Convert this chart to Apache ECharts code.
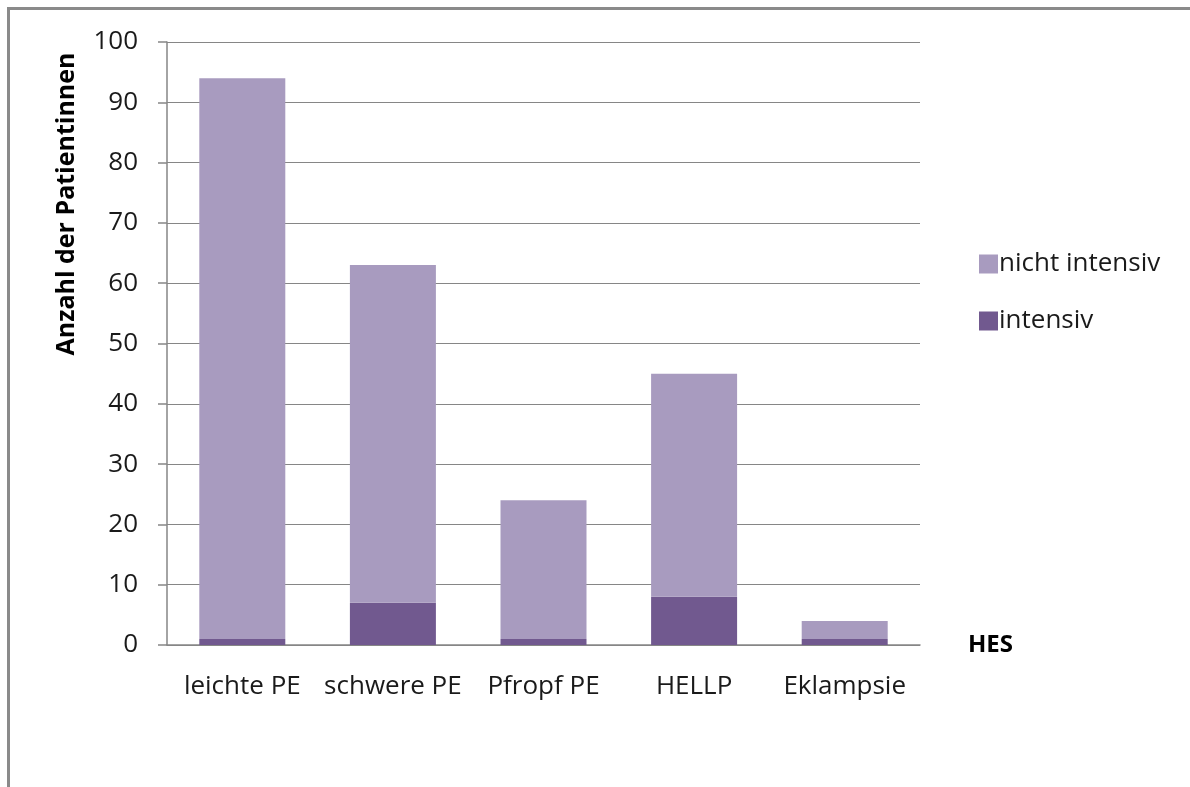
<!DOCTYPE html>
<html>
<head>
<meta charset="utf-8">
<style>
  html, body { margin: 0; padding: 0; background: #fff; }
  #chart { width: 1190px; height: 787px; }
</style>
<script src="https://cdn.jsdelivr.net/npm/echarts@6/dist/echarts.min.js"></script>
</head>
<body>
<div id="chart"></div>
<script>
  // Werte
  const categories = ["leichte PE", "schwere PE", "Pfropf PE", "HELLP", "Eklampsie"]
  const intensiv = [1, 7, 1, 8, 1]
  const nichtIntensiv = [93, 56, 23, 37, 3]
  const yTicks = [0, 10, 20, 30, 40, 50, 60, 70, 80, 90, 100]

  const fontFamily = "'Open Sans', sans-serif"
  const darkPurple = "#71598f"
  const lightPurple = "#a89bbf"

  const chart = echarts.init(document.getElementById("chart"))

  chart.setOption({
    animation: false,
    textStyle: { fontFamily },
    grid: {
      left: 167,
      right: 270,
      top: 42,
      bottom: 142
    },
    legend: {
      orient: "vertical",
      left: 974,
      top: 246,
      itemWidth: 19,
      itemHeight: 19,
      itemGap: 31,
      icon: "rect",
      data: ["nicht intensiv", "intensiv"],
      textStyle: { fontFamily, fontSize: 26, color: "#1a1a1a", padding: [0, 0, 0, -4] }
    },
    xAxis: {
      type: "category",
      data: categories,
      name: "HES",
      nameLocation: "end",
      nameGap: 48,
      nameTextStyle: { fontFamily, fontSize: 24, fontWeight: "bold", color: "#000", padding: [0, 0, 8, 0] },
      axisLine: { lineStyle: { color: "#868686", width: 1.5 } },
      axisTick: { show: false },
      axisLabel: { interval: 0, fontSize: 26, color: "#1a1a1a", margin: 29 }
    },
    yAxis: {
      type: "value",
      min: yTicks[0],
      max: yTicks[yTicks.length - 1],
      interval: 10,
      axisLine: { show: true, lineStyle: { color: "#868686", width: 1.5 } },
      axisTick: { show: true, length: 9, lineStyle: { color: "#868686", width: 1.5 } },
      splitLine: { lineStyle: { color: "#868686", width: 1.2 } },
      axisLabel: { fontSize: 26, color: "#1a1a1a", margin: 29 }
    },
    series: [
      {
        name: "intensiv",
        type: "bar",
        stack: "gesamt",
        barWidth: 86,
        data: intensiv,
        itemStyle: { color: darkPurple }
      },
      {
        name: "nicht intensiv",
        type: "bar",
        stack: "gesamt",
        barWidth: 86,
        data: nichtIntensiv,
        itemStyle: { color: lightPurple }
      }
    ],
    graphic: [
      {
        type: "rect",
        left: 6,
        top: 6,
        shape: { width: 1200, height: 800 },
        style: { fill: "none", stroke: "#8a8a8a", lineWidth: 3 },
        silent: true
      },
      {
        type: "text",
        x: 67,
        y: 204,
        rotation: Math.PI / 2,
        style: {
          text: "Anzahl der Patientinnen",
          fontFamily,
          fontSize: 25,
          fontWeight: "bold",
          fill: "#000",
          align: "center",
          verticalAlign: "middle"
        }
      }
    ]
  })

  window.addEventListener("resize", () => {
    chart && chart.resize()
  })
</script>
</body>
</html>
